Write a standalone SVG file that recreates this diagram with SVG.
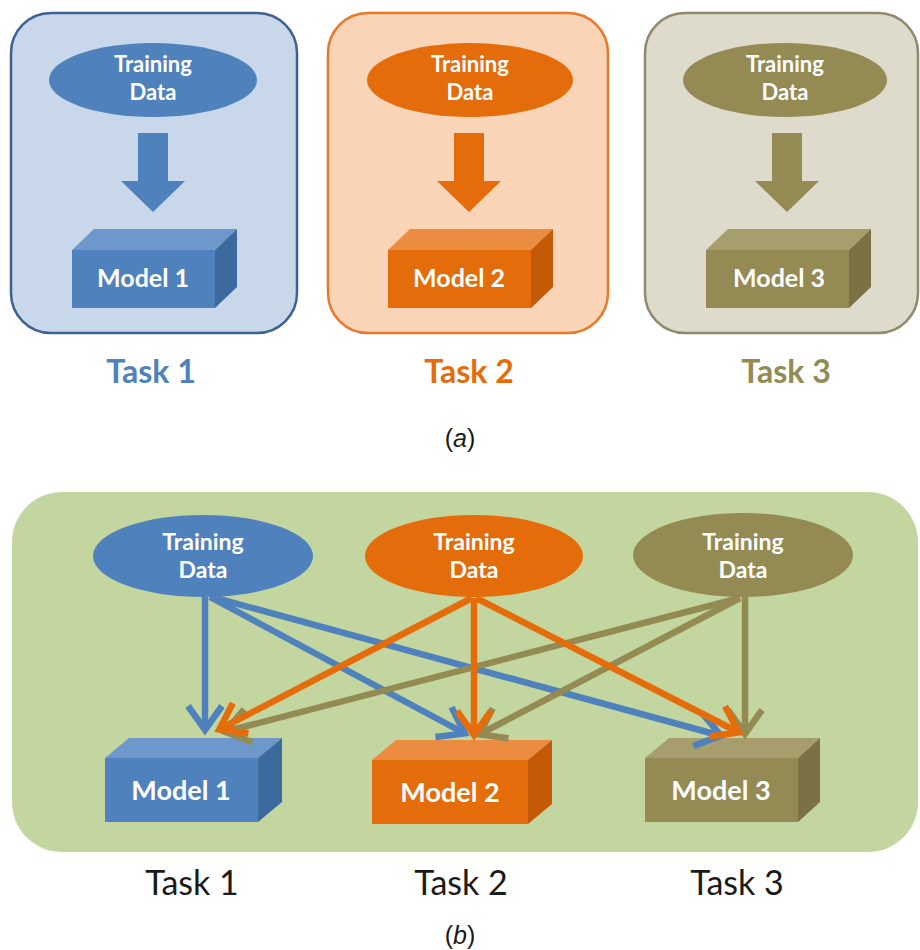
<svg xmlns="http://www.w3.org/2000/svg" width="920" height="950" viewBox="0 0 920 950">
<style>
.lbl{font-family:Lato,"Open Sans","Liberation Sans",sans-serif;font-weight:bold;fill:#ffffff;text-anchor:middle}
.task{font-family:Lato,"Open Sans","Liberation Sans",sans-serif;text-anchor:middle}
.cap{font-family:"Liberation Sans",Arial,sans-serif;font-size:25px;fill:#1a1a1a;text-anchor:middle}
.ln{fill:none;stroke-width:6.5}
</style>
<defs>
<marker id="hb" markerUnits="userSpaceOnUse" viewBox="0 0 32 36" markerWidth="32" markerHeight="36" refX="24" refY="18" orient="auto" overflow="visible"><path d="M3,1 L27,18 L3,35" fill="none" stroke="#4f81bd" stroke-width="6.5"/></marker>
<marker id="ho" markerUnits="userSpaceOnUse" viewBox="0 0 32 36" markerWidth="32" markerHeight="36" refX="24" refY="18" orient="auto" overflow="visible"><path d="M3,1 L27,18 L3,35" fill="none" stroke="#e46c0a" stroke-width="6.5"/></marker>
<marker id="hg" markerUnits="userSpaceOnUse" viewBox="0 0 32 36" markerWidth="32" markerHeight="36" refX="24" refY="18" orient="auto" overflow="visible"><path d="M3,1 L27,18 L3,35" fill="none" stroke="#948a54" stroke-width="6.5"/></marker>
</defs>
<rect width="920" height="950" fill="#ffffff"/>

<!-- Panel (a) -->
<g id="task1a">
<rect x="11" y="13" width="286" height="320" rx="40" fill="#c8d8ea" stroke="#3d6292" stroke-width="2.5"/>
<ellipse cx="153" cy="80" rx="104" ry="37" fill="#4f81bd"/>
<text class="lbl" x="153" y="72" font-size="22">Training</text>
<text class="lbl" x="153" y="100" font-size="22">Data</text>
<polygon points="138,133 168,133 168,181 185,181 153,212 121,181 138,181" fill="#4f81bd"/>
<polygon points="72,250 94,229 237,229 215,250" fill="#6e97cb"/>
<polygon points="215,250 237,229 237,287 215,308" fill="#3d6a9e"/>
<rect x="72" y="250" width="143" height="58" fill="#4f81bd"/>
<text class="lbl" x="143" y="287" font-size="25">Model 1</text>
<text class="task" x="151" y="383" font-size="32" font-weight="bold" fill="#4f81bd">Task 1</text>
</g>
<g id="task2a">
<rect x="328" y="13" width="280" height="320" rx="40" fill="#f9d4b7" stroke="#e8782a" stroke-width="2.5"/>
<ellipse cx="470" cy="80" rx="103" ry="37" fill="#e46c0a"/>
<text class="lbl" x="470" y="72" font-size="22">Training</text>
<text class="lbl" x="470" y="100" font-size="22">Data</text>
<polygon points="454,133 484,133 484,181 501,181 469,212 437,181 454,181" fill="#e46c0a"/>
<polygon points="388,250 410,229 553,229 531,250" fill="#ec8c40"/>
<polygon points="531,250 553,229 553,287 531,308" fill="#c25a08"/>
<rect x="388" y="250" width="143" height="58" fill="#e46c0a"/>
<text class="lbl" x="459" y="287" font-size="25">Model 2</text>
<text class="task" x="469" y="383" font-size="32" font-weight="bold" fill="#e46c0a">Task 2</text>
</g>
<g id="task3a">
<rect x="645" y="13" width="273" height="320" rx="40" fill="#dedbcc" stroke="#8e8a6c" stroke-width="2.5"/>
<ellipse cx="785" cy="80" rx="102" ry="37" fill="#948a54"/>
<text class="lbl" x="785" y="72" font-size="22">Training</text>
<text class="lbl" x="785" y="100" font-size="22">Data</text>
<polygon points="772,133 802,133 802,181 819,181 787,212 755,181 772,181" fill="#948a54"/>
<polygon points="706,250 728,229 871,229 849,250" fill="#a79e6e"/>
<polygon points="849,250 871,229 871,287 849,308" fill="#7a7245"/>
<rect x="706" y="250" width="143" height="58" fill="#948a54"/>
<text class="lbl" x="779" y="287" font-size="25">Model 3</text>
<text class="task" x="786" y="383" font-size="32" font-weight="bold" fill="#948a54">Task 3</text>
</g>
<text class="cap" x="460" y="447">(<tspan font-style="italic">a</tspan>)</text>

<!-- Panel (b) -->
<rect id="panelb" x="12" y="492" width="906" height="360" rx="50" fill="#c4d6a0"/>

<g id="data1b">
<ellipse cx="203" cy="556" rx="110" ry="41" fill="#4f81bd"/>
<text class="lbl" x="203" y="550" font-size="23">Training</text>
<text class="lbl" x="203" y="578" font-size="23">Data</text>
</g>
<g id="data2b">
<ellipse cx="474" cy="556" rx="109" ry="41" fill="#e46c0a"/>
<text class="lbl" x="474" y="550" font-size="23">Training</text>
<text class="lbl" x="474" y="578" font-size="23">Data</text>
</g>
<g id="data3b">
<ellipse cx="743" cy="555" rx="110" ry="42" fill="#948a54"/>
<text class="lbl" x="743" y="550" font-size="23">Training</text>
<text class="lbl" x="743" y="578" font-size="23">Data</text>
</g>

<g id="model1b">
<polygon points="105,758 129,738 282,738 258,758" fill="#6e97cb"/>
<polygon points="258,758 282,738 282,802 258,822" fill="#3d6a9e"/>
<rect x="105" y="758" width="153" height="64" fill="#4f81bd"/>
<text class="lbl" x="181" y="800" font-size="27">Model 1</text>
</g>
<g id="model2b">
<polygon points="372,760 396,740 552,740 528,760" fill="#ec8c40"/>
<polygon points="528,760 552,740 552,804 528,824" fill="#c25a08"/>
<rect x="372" y="760" width="156" height="64" fill="#e46c0a"/>
<text class="lbl" x="450" y="802" font-size="27">Model 2</text>
</g>
<g id="model3b">
<polygon points="645,758 669,738 820,738 798,758" fill="#a79e6e"/>
<polygon points="798,758 820,738 820,802 798,822" fill="#7a7245"/>
<rect x="645" y="758" width="153" height="64" fill="#948a54"/>
<text class="lbl" x="721" y="800" font-size="27">Model 3</text>
</g>

<g id="connectors">
<line class="ln" stroke="#4f81bd" x1="205" y1="597" x2="205" y2="727" marker-end="url(#hb)"/>
<line class="ln" stroke="#4f81bd" x1="210" y1="597" x2="462" y2="732" marker-end="url(#hb)"/>
<line class="ln" stroke="#4f81bd" x1="212" y1="597" x2="718" y2="735" marker-end="url(#hb)"/>
<line class="ln" stroke="#948a54" x1="740" y1="598" x2="228" y2="731" marker-end="url(#hg)"/>
<line class="ln" stroke="#948a54" x1="740" y1="598" x2="482" y2="733" marker-end="url(#hg)"/>
<line class="ln" stroke="#948a54" x1="745" y1="597" x2="745" y2="731" marker-end="url(#hg)"/>
<line class="ln" stroke="#e46c0a" x1="472" y1="598" x2="222" y2="728" marker-end="url(#ho)"/>
<line class="ln" stroke="#e46c0a" x1="474" y1="598" x2="474" y2="732" marker-end="url(#ho)"/>
<line class="ln" stroke="#e46c0a" x1="476" y1="598" x2="736" y2="731" marker-end="url(#ho)"/>
</g>

<g id="tasklabelsb">
<text class="task" x="192" y="895" font-size="34" fill="#1a1a1a">Task 1</text>
<text class="task" x="461" y="895" font-size="34" fill="#1a1a1a">Task 2</text>
<text class="task" x="737" y="895" font-size="34" fill="#1a1a1a">Task 3</text>
</g>
<text class="cap" x="460" y="944">(<tspan font-style="italic">b</tspan>)</text>
</svg>
